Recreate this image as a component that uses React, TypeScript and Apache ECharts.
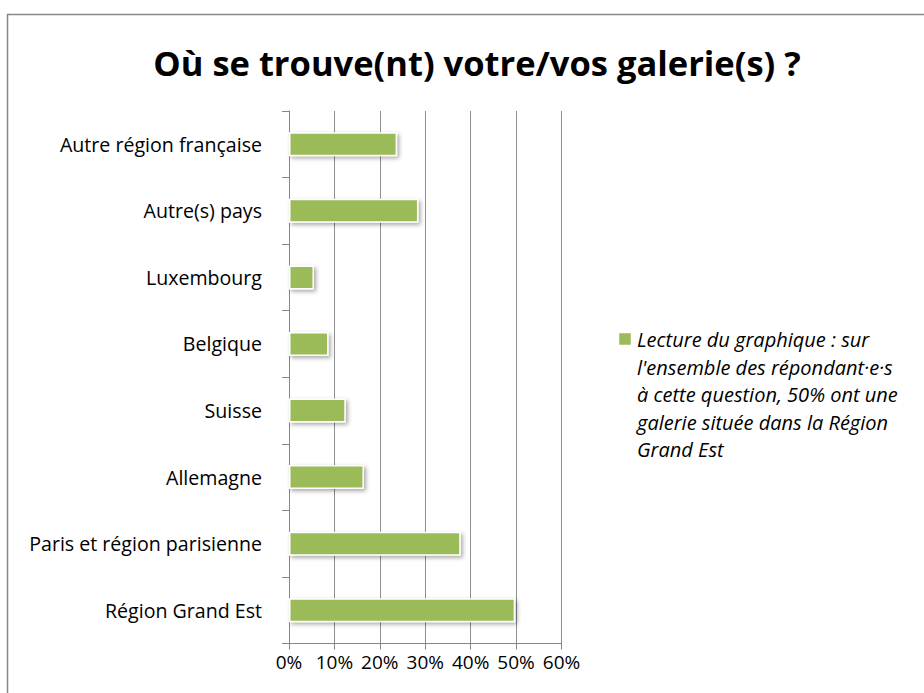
import React, { useEffect, useRef } from "react";
import * as echarts from "echarts";

const titleText = "Où se trouve(nt) votre/vos galerie(s) ?";
const categories = [
  "Autre région française",
  "Autre(s) pays",
  "Luxembourg",
  "Belgique",
  "Suisse",
  "Allemagne",
  "Paris et région parisienne",
  "Région Grand Est",
];
const values = [23.8, 28.5, 5.5, 8.7, 12.5, 16.5, 37.8, 49.8];
const seriesName =
  "Lecture du graphique : sur\nl'ensemble des répondant·e·s\nà cette question, 50% ont une\ngalerie située dans la Région\nGrand Est";
const xTicks = { min: 0, max: 60, interval: 10 };

export default function App() {
  const ref = useRef<HTMLDivElement>(null);
  useEffect(() => {
    if (!ref.current) return;
    const chart = echarts.init(ref.current, null, { renderer: "svg" });
    const font = "'Open Sans', 'Noto Sans', sans-serif";
    chart.setOption({
      animation: false,
      backgroundColor: "#ffffff",
      title: {
        text: titleText,
        left: 472,
        textAlign: "center",
        top: 40,
        textStyle: { fontFamily: font, fontWeight: "bold", fontSize: 34.5, color: "#000" },
      },
      grid: { left: 289, right: 924 - 561.5, top: 111, bottom: 693 - 643.5, containLabel: false },
      xAxis: {
        type: "value",
        min: xTicks.min,
        max: xTicks.max,
        interval: xTicks.interval,
        axisLine: { show: true, lineStyle: { color: "#868686", width: 1 } },
        axisTick: { show: true, length: 6, lineStyle: { color: "#868686" } },
        splitLine: { show: true, lineStyle: { color: "#8f8f8f", width: 1 } },
        axisLabel: {
          formatter: "{value}%",
          fontFamily: font,
          fontSize: 19,
          color: "#000",
          margin: 9,
        },
      },
      yAxis: {
        type: "category",
        inverse: true,
        data: categories,
        axisLine: { show: true, lineStyle: { color: "#868686", width: 1 } },
        axisTick: { show: true, length: 7, lineStyle: { color: "#868686" } },
        axisLabel: { fontFamily: font, fontSize: 19.6, color: "#000", margin: 27 },
      },
      legend: {
        show: true,
        left: 631,
        top: 326,
        padding: 0,
        icon: "rect",
        itemWidth: 0,
        itemHeight: 0,
        data: [seriesName],
        selectedMode: false,
        textStyle: {
          fontFamily: font,
          fontStyle: "italic",
          fontSize: 20,
          lineHeight: 27.5,
          color: "#000",
        },
      },
      graphic: [
        {
          type: "rect",
          shape: { x: 7.5, y: 14.5, width: 1000, height: 1000 },
          style: { fill: "none", stroke: "#888888", lineWidth: 1.5 },
          silent: true,
        },
        {
          type: "rect",
          shape: { x: 619, y: 333, width: 12, height: 12 },
          style: { fill: "#9BBB59", stroke: "#ffffff", lineWidth: 0.5 },
          silent: true,
        },
      ],
      series: [
        {
          name: seriesName,
          type: "bar",
          data: values,
          barWidth: 24,
          itemStyle: {
            color: "#9BBB59",
            borderColor: "#ffffff",
            borderWidth: 1.5,
            shadowColor: "rgba(0,0,0,0.35)",
            shadowBlur: 4,
            shadowOffsetX: 2,
            shadowOffsetY: 2,
          },
        },
      ],
    });
    return () => chart.dispose();
  }, []);
  return (
    <div
      ref={ref}
      style={{ position: "fixed", left: 0, top: 0, width: 924, height: 693 }}
    />
  );
}
